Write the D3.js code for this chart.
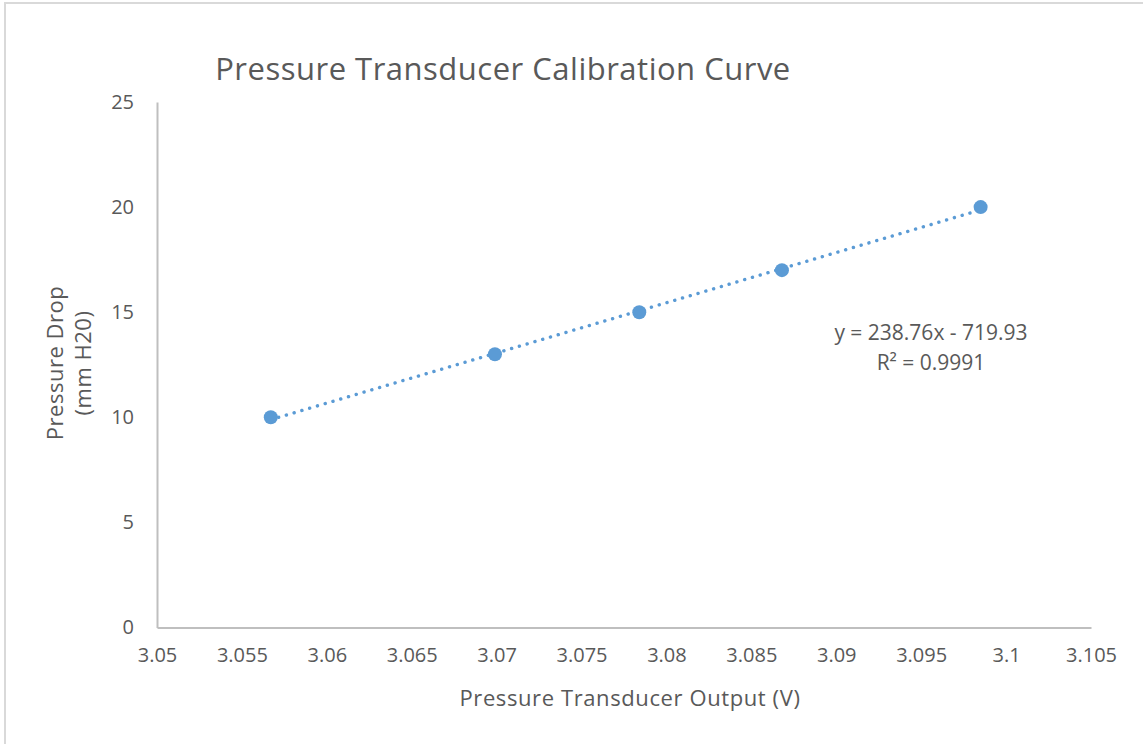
<!DOCTYPE html>
<html><head><meta charset="utf-8">
<script src="https://cdn.jsdelivr.net/npm/d3@7"></script>
<style>body{margin:0;background:#fff}svg{display:block}text{font-family:"Open Sans",sans-serif;fill:#595959}</style>
</head><body>
<svg id="c" width="1143" height="744"></svg>
<script>
const xValues = [3.0567, 3.0699, 3.0784, 3.0868, 3.0985];
const yValues = [10, 13, 15, 17, 20];
const xTicks = [3.05, 3.055, 3.06, 3.065, 3.07, 3.075, 3.08, 3.085, 3.09, 3.095, 3.1, 3.105];
const yTicks = [0, 5, 10, 15, 20, 25];
const slope = 238.76, intercept = -719.93;
const title = "Pressure Transducer Calibration Curve";
const xTitle = "Pressure Transducer Output (V)";
const yTitle = ["Pressure Drop", "(mm H20)"];
const eqText = ["y = 238.76x - 719.93", "R\u00B2 = 0.9991"];

const FONT = "'Open Sans', sans-serif";
const svg = d3.select("#c");
svg.append("rect").attr("x",5).attr("y",3).attr("width",1150).attr("height",760)
  .attr("fill","none").attr("stroke","#d9d9d9").attr("stroke-width",2);

const x = d3.scaleLinear().domain([3.05,3.105]).range([157,1091]);
const y = d3.scaleLinear().domain([0,25]).range([627.5,102]);

const xAxis = svg.append("g").attr("transform","translate(0,627.5)")
  .call(d3.axisBottom(x).tickValues(xTicks).tickSize(0).tickPadding(20).tickFormat(d=>String(+d.toFixed(3))));
xAxis.select(".domain").attr("stroke","#bfbfbf").attr("stroke-width",2);
xAxis.selectAll("text").attr("font-size",20).style("fill","#595959").attr("font-family",FONT);

const yAxis = svg.append("g").attr("transform","translate(157,0)")
  .call(d3.axisLeft(y).tickValues(yTicks).tickSize(0).tickPadding(23));
yAxis.select(".domain").attr("stroke","#bfbfbf").attr("stroke-width",2);
yAxis.selectAll("text").attr("font-size",20).style("fill","#595959").attr("font-family",FONT);

// trendline
const xmin = d3.min(xValues), xmax = d3.max(xValues);
svg.append("line")
  .attr("x1",x(xmin)).attr("y1",y(slope*xmin+intercept))
  .attr("x2",x(xmax)).attr("y2",y(slope*xmax+intercept))
  .attr("stroke","#5b9bd5").attr("stroke-width",3.4)
  .attr("stroke-dasharray","0.1 8").attr("stroke-linecap","round");

svg.selectAll("circle.pt").data(xValues).join("circle").attr("class","pt")
  .attr("cx",d=>x(d)).attr("cy",(d,i)=>y(yValues[i])).attr("r",7)
  .attr("fill","#5b9bd5");

svg.append("text").attr("x",503).attr("y",80).attr("text-anchor","middle")
  .attr("font-size",31).attr("letter-spacing",0.5).text(title);
svg.append("text").attr("x",630).attr("y",706).attr("text-anchor","middle")
  .attr("font-size",22).attr("letter-spacing",0.6).text(xTitle);
const yt = svg.append("g").attr("transform","translate(0,363) rotate(-90)");
yt.append("text").attr("x",0).attr("y",63).attr("text-anchor","middle").attr("font-size",22).attr("letter-spacing",0.5).text(yTitle[0]);
yt.append("text").attr("x",0).attr("y",91).attr("text-anchor","middle").attr("font-size",22).attr("letter-spacing",0.5).text(yTitle[1]);

svg.append("text").attr("x",931).attr("y",340).attr("text-anchor","middle").attr("font-size",21).text(eqText[0]);
svg.append("text").attr("x",931).attr("y",370).attr("text-anchor","middle").attr("font-size",21).text(eqText[1]);
</script>
</body></html>
